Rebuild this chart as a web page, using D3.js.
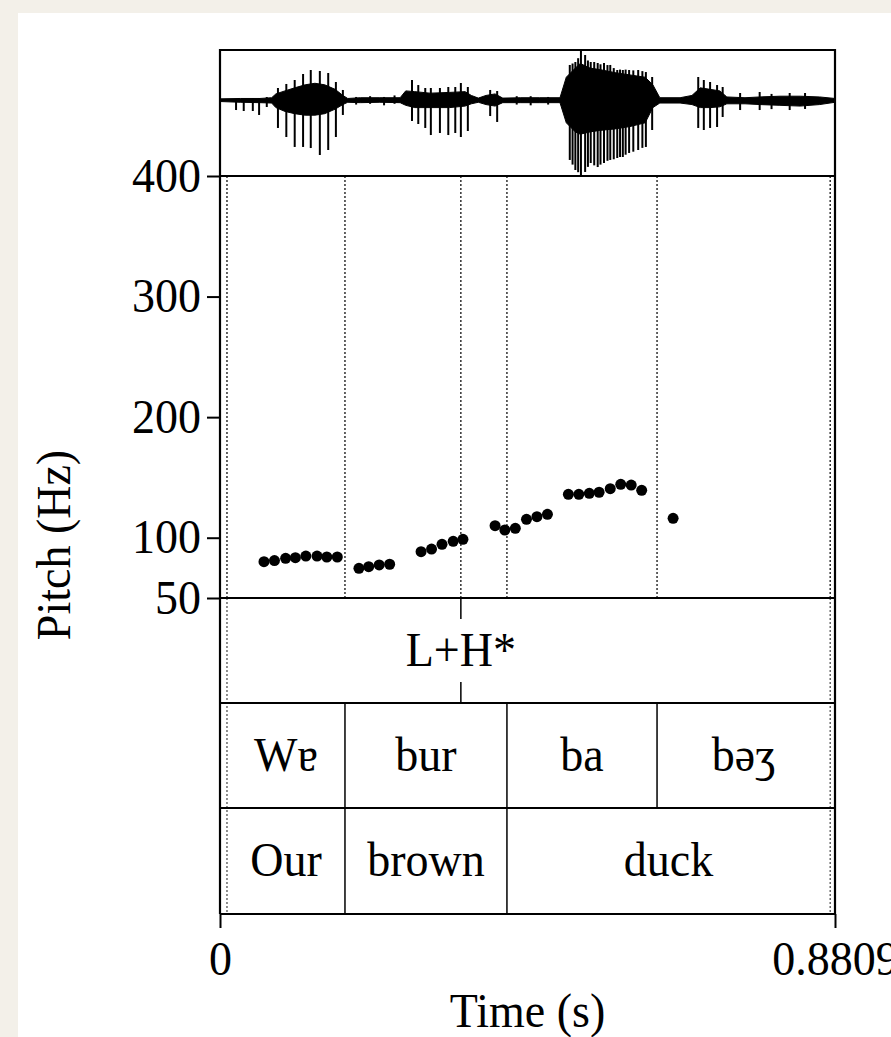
<!DOCTYPE html>
<html>
<head>
<meta charset="utf-8">
<script src="https://cdn.jsdelivr.net/npm/d3@7"></script>
<style>
  html, body { margin: 0; padding: 0; background: #f3f0e9; }
  svg { display: block; }
</style>
</head>
<body>
<svg id="chart" width="891" height="1037"></svg>
<script>
// ---------------- DATA ----------------
const timeMax = 0.8809;
const pitchTicks = [50, 100, 200, 300, 400];
const timeTicks = [0, 0.8809];
const timeTickLabels = ["0", "0.8809"];

// pitch track (s, Hz)
const pitchTimes = [0.063, 0.078, 0.094, 0.108, 0.123, 0.139, 0.153, 0.168,
                    0.199, 0.213, 0.228, 0.243,
                    0.288, 0.303, 0.318, 0.334, 0.348,
                    0.394, 0.408, 0.423, 0.439, 0.454, 0.469,
                    0.499, 0.514, 0.529, 0.543, 0.559, 0.574, 0.589, 0.604,
                    0.649];
const pitchHz = [80.1, 81.0, 82.9, 83.4, 84.8, 84.8, 84.0, 84.0,
                 74.6, 76.0, 77.4, 78.0,
                 88.4, 90.6, 94.5, 97.0, 98.7,
                 110.0, 106.4, 107.8, 115.3, 117.4, 119.4,
                 136.0, 136.0, 136.8, 137.7, 140.7, 144.3, 143.7, 139.3,
                 116.1];

// tiers
const tones = ["L+H*"];
const toneTimes = [0.345];
const syllables = ["Wɐ", "bur", "ba", "bəʒ"];
const syllableBounds = [0.010, 0.179, 0.411, 0.626, 0.874];
const words = ["Our", "brown", "duck"];
const wordBounds = [0.010, 0.179, 0.411, 0.874];
const tierEdges = [0.010, 0.874];

// waveform envelope (s, upper amplitude, lower amplitude), normalised
const waveCoreT  = [0.000,0.029,0.057,0.074,0.080,0.093,0.107,0.122,0.136,0.150,0.165,0.176,0.183,0.201,0.229,0.258,0.266,0.279,0.301,0.329,0.351,0.360,0.370,0.381,0.394,0.405,0.430,0.458,0.487,0.496,0.509,0.516,0.530,0.544,0.566,0.587,0.609,0.620,0.630,0.659,0.676,0.688,0.702,0.716,0.726,0.752,0.773,0.802,0.831,0.859,0.881];
const waveCoreHi = [0.015,0.020,0.020,0.030,0.080,0.120,0.160,0.200,0.220,0.200,0.140,0.060,0.020,0.030,0.030,0.030,0.120,0.110,0.090,0.100,0.110,0.060,0.025,0.060,0.080,0.025,0.030,0.030,0.030,0.300,0.420,0.480,0.420,0.400,0.360,0.330,0.300,0.200,0.030,0.030,0.060,0.160,0.140,0.120,0.040,0.030,0.040,0.050,0.050,0.040,0.020];
const waveCoreLo = [-0.020,-0.030,-0.035,-0.040,-0.100,-0.150,-0.180,-0.200,-0.200,-0.180,-0.120,-0.060,-0.030,-0.035,-0.030,-0.035,-0.070,-0.100,-0.100,-0.100,-0.080,-0.050,-0.030,-0.060,-0.080,-0.035,-0.035,-0.035,-0.035,-0.300,-0.420,-0.450,-0.420,-0.400,-0.380,-0.350,-0.300,-0.100,-0.040,-0.040,-0.060,-0.100,-0.100,-0.090,-0.050,-0.050,-0.060,-0.070,-0.080,-0.060,-0.030];

// waveform pulses (s, peak, trough)
const pulseT  = [0.023,0.034,0.047,0.056,0.067,0.083,0.095,0.107,0.119,0.130,0.143,0.155,0.166,0.176,0.195,0.215,0.235,0.250,0.275,0.284,0.294,0.302,0.315,0.327,0.337,0.345,0.355,0.387,0.397,0.425,0.445,0.470,0.501,0.505,0.509,0.513,0.517,0.523,0.527,0.531,0.536,0.541,0.545,0.550,0.555,0.559,0.564,0.569,0.573,0.577,0.581,0.586,0.592,0.599,0.605,0.610,0.619,0.685,0.693,0.702,0.712,0.720,0.745,0.773,0.790,0.816,0.838];
const pulseHi = [0.013,0.013,0.026,0.026,0.039,0.158,0.211,0.263,0.342,0.395,0.382,0.355,0.237,0.132,0.040,0.050,0.040,0.060,0.263,0.197,0.158,0.158,0.158,0.171,0.171,0.224,0.171,0.132,0.118,0.050,0.050,0.040,0.461,0.480,0.500,0.550,0.658,0.592,0.520,0.500,0.500,0.487,0.470,0.487,0.460,0.461,0.420,0.395,0.400,0.395,0.400,0.395,0.390,0.395,0.380,0.368,0.303,0.303,0.263,0.237,0.197,0.171,0.092,0.105,0.080,0.092,0.092];
const pulseLo = [-0.132,-0.145,-0.145,-0.197,-0.092,-0.368,-0.487,-0.618,-0.618,-0.632,-0.724,-0.658,-0.487,-0.197,-0.060,-0.050,-0.070,-0.050,-0.276,-0.316,-0.368,-0.461,-0.434,-0.461,-0.434,-0.487,-0.408,-0.211,-0.289,-0.060,-0.070,-0.060,-0.789,-0.850,-0.921,-0.950,-1.000,-0.947,-0.880,-0.829,-0.860,-0.882,-0.850,-0.829,-0.800,-0.789,-0.780,-0.763,-0.750,-0.750,-0.720,-0.697,-0.680,-0.658,-0.630,-0.618,-0.395,-0.368,-0.395,-0.368,-0.355,-0.224,-0.132,-0.132,-0.120,-0.132,-0.118];

// ---------------- LAYOUT ----------------
const L = 220, R = 835;
const waveTop = 50, pitchTop = 176, pitchBot = 598;
const tierLines = [598, 703, 808, 914];
const FONT = "'Liberation Serif', 'Times New Roman', serif";
const FS = 46;
const STRETCH = 1.07;

const svg = d3.select("#chart");
svg.append("rect").attr("x", 18).attr("y", 13).attr("width", 891 - 18).attr("height", 1037 - 13).attr("fill", "#ffffff");

const x = d3.scaleLinear().domain([0, timeMax]).range([L, R]);
const yP = d3.scaleLinear().domain([50, 400]).range([pitchBot, pitchTop]);
const yW = d3.scaleLinear().domain([-1, 1]).range([pitchTop, pitchTop - 2 * (pitchTop - 100)]);

function stretch(sel) {
  sel.each(function() {
    const t = d3.select(this);
    const tx = +t.attr("x") || 0, ty = +t.attr("y") || 0;
    const pre = t.attr("transform") || "";
    t.attr("transform", `${pre} translate(${tx},${ty}) scale(1,${STRETCH}) translate(${-tx},${-ty})`);
  });
}

// waveform
svg.append("clipPath").attr("id", "wclip").append("rect")
  .attr("x", L).attr("y", waveTop).attr("width", R - L).attr("height", pitchTop - waveTop);
const wg = svg.append("g").attr("clip-path", "url(#wclip)");
const core = waveCoreT.map((t, i) => ({t, hi: waveCoreHi[i], lo: waveCoreLo[i]}));
wg.append("path")
  .attr("d", d3.area().x(d => x(d.t)).y0(d => yW(d.lo)).y1(d => yW(d.hi))(core))
  .attr("fill", "#000").attr("stroke", "#000").attr("stroke-width", 1);
wg.selectAll("line.pulse").data(pulseT.map((t, i) => ({t, hi: pulseHi[i], lo: pulseLo[i]})))
  .join("line").attr("class", "pulse")
  .attr("x1", d => x(d.t)).attr("x2", d => x(d.t))
  .attr("y1", d => yW(d.hi)).attr("y2", d => yW(d.lo))
  .attr("stroke", "#000").attr("stroke-width", 2);

// dotted boundary lines through pitch area
const dotted = [...new Set([...syllableBounds, ...wordBounds, ...toneTimes])];
svg.selectAll("line.dot").data(dotted).join("line").attr("class", "dot")
  .attr("x1", d => x(d)).attr("x2", d => x(d))
  .attr("y1", pitchTop).attr("y2", pitchBot)
  .attr("stroke", "#111").attr("stroke-width", 1.3).attr("stroke-dasharray", "2,2");
// tier edge dotted lines through tiers
svg.selectAll("line.edge").data(tierEdges).join("line").attr("class", "edge")
  .attr("x1", d => x(d)).attr("x2", d => x(d))
  .attr("y1", pitchBot).attr("y2", tierLines[3])
  .attr("stroke", "#444").attr("stroke-width", 1.2).attr("stroke-dasharray", "2,2");

// pitch points
svg.selectAll("circle.p").data(pitchTimes.map((t, i) => ({t, f: pitchHz[i]})))
  .join("circle").attr("class", "p")
  .attr("cx", d => x(d.t)).attr("cy", d => yP(d.f)).attr("r", 5.5).attr("fill", "#000");

// tone tier
toneTimes.forEach((t, i) => {
  svg.append("line").attr("x1", x(t)).attr("x2", x(t)).attr("y1", tierLines[0]).attr("y2", tierLines[0] + 21)
    .attr("stroke", "#000").attr("stroke-width", 1.5);
  svg.append("line").attr("x1", x(t)).attr("x2", x(t)).attr("y1", tierLines[1] - 21).attr("y2", tierLines[1])
    .attr("stroke", "#000").attr("stroke-width", 1.5);
  svg.append("text").attr("class", "lbl").attr("x", x(t)).attr("y", 666).attr("text-anchor", "middle")
    .attr("font-family", FONT).attr("font-size", FS).text(tones[i]);
});

// interval tiers
function drawTier(labels, bounds, top, bot, baseline) {
  const g = svg.append("g");
  g.selectAll("line").data(bounds.slice(1, -1)).join("line")
    .attr("x1", d => x(d)).attr("x2", d => x(d)).attr("y1", top).attr("y2", bot)
    .attr("stroke", "#000").attr("stroke-width", 1.5);
  g.selectAll("text").data(labels).join("text").attr("class", "lbl")
    .attr("x", (d, i) => (x(bounds[i]) + x(bounds[i + 1])) / 2)
    .attr("y", baseline).attr("text-anchor", "middle")
    .attr("font-family", FONT).attr("font-size", FS).text(d => d);
}
drawTier(syllables, syllableBounds, tierLines[1], tierLines[2], 771);
drawTier(words, wordBounds, tierLines[2], tierLines[3], 876);

// horizontal lines
svg.append("line").attr("x1", L).attr("x2", R).attr("y1", waveTop).attr("y2", waveTop)
  .attr("stroke", "#000").attr("stroke-width", 2.2);
tierLines.concat([pitchTop]).forEach(yy => {
  svg.append("line").attr("x1", L).attr("x2", R).attr("y1", yy).attr("y2", yy)
    .attr("stroke", "#000").attr("stroke-width", 2);
});
// frame verticals
[L, R].forEach(xx => {
  svg.append("line").attr("x1", xx).attr("x2", xx).attr("y1", waveTop - 1).attr("y2", tierLines[3])
    .attr("stroke", "#000").attr("stroke-width", 2.2);
});

// y axis
const yAxis = svg.append("g").attr("transform", `translate(${L},0)`)
  .call(d3.axisLeft(yP).tickValues(pitchTicks).tickSize(13).tickPadding(6).tickFormat(d3.format("d")));
yAxis.select(".domain").remove();
yAxis.selectAll(".tick line").attr("stroke-width", 2);
yAxis.selectAll("text").attr("font-family", FONT).attr("font-size", FS).attr("fill", "#000")
  .attr("dy", null).attr("y", 15);
stretch(yAxis.selectAll("text"));

// x axis
const xAxis = svg.append("g").attr("transform", `translate(0,${tierLines[3]})`)
  .call(d3.axisBottom(x).tickValues(timeTicks).tickSize(14).tickPadding(13)
    .tickFormat((d, i) => timeTickLabels[i]));
xAxis.select(".domain").remove();
xAxis.selectAll(".tick line").attr("stroke-width", 2);
xAxis.selectAll("text").attr("font-family", FONT).attr("font-size", FS).attr("fill", "#000")
  .attr("dy", null).attr("y", 61);
stretch(xAxis.selectAll("text"));

// axis titles
svg.append("text").attr("class", "lbl").attr("x", (L + R) / 2).attr("y", 1027).attr("text-anchor", "middle")
  .attr("font-family", FONT).attr("font-size", FS).text("Time (s)");
stretch(svg.selectAll("text.lbl"));
svg.append("text").attr("transform", `translate(70,545) rotate(-90) scale(1,${STRETCH})`).attr("text-anchor", "middle")
  .attr("font-family", FONT).attr("font-size", FS).text("Pitch (Hz)");
</script>
</body>
</html>
